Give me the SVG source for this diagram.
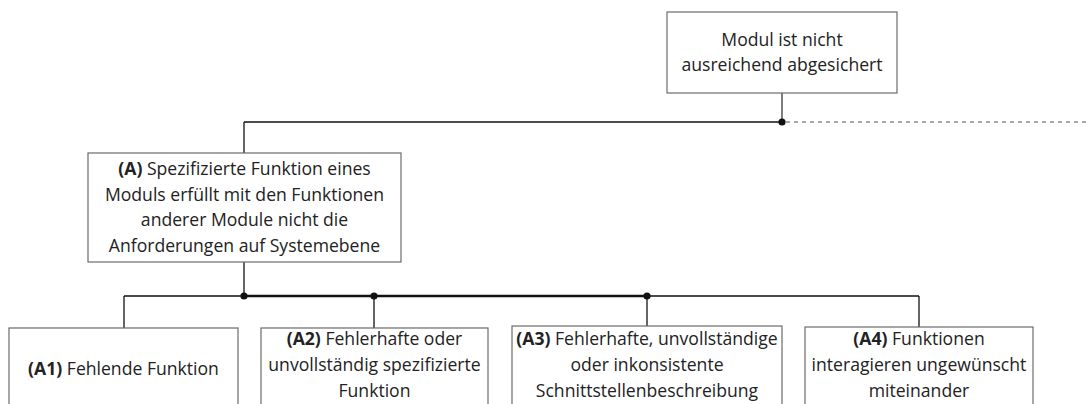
<svg xmlns="http://www.w3.org/2000/svg" width="1089" height="404" viewBox="0 0 1089 404">
  <style>
    .box { fill: #ffffff; stroke: #6b6b6b; stroke-width: 1.2; }
    .txt { font-family: "Open Sans", "Noto Sans", sans-serif; font-size: 17.6px; fill: #222; text-anchor: middle; }
    .b { font-weight: bold; }
    .wire { stroke: #111; stroke-width: 1.3; fill: none; }
    .bus { stroke: #111; stroke-width: 2.6; fill: none; }
    .dash { stroke: #8a8a8a; stroke-width: 1.5; stroke-dasharray: 4 4; fill: none; }
    .dot { fill: #111; }
  </style>
  <rect width="1089" height="404" fill="#ffffff"/>

  <!-- connectors -->
  <g id="connectors">
    <line class="wire" x1="782" y1="93" x2="782" y2="122" style="stroke:#3a3a3a"/>
    <line class="wire" x1="244" y1="122" x2="782" y2="122"/>
    <line class="dash" x1="786" y1="122" x2="1089" y2="122"/>
    <line class="wire" x1="244" y1="122" x2="244" y2="153"/>
    <line class="wire" x1="244" y1="262" x2="244" y2="296"/>
    <line class="wire" x1="124" y1="296" x2="244" y2="296"/>
    <line class="bus" x1="244" y1="296" x2="647" y2="296"/>
    <line class="wire" x1="647" y1="296" x2="919" y2="296"/>
    <line class="wire" x1="124" y1="296" x2="124" y2="328"/>
    <line class="wire" x1="374" y1="296" x2="374" y2="328"/>
    <line class="wire" x1="647" y1="296" x2="647" y2="326"/>
    <line class="wire" x1="919" y1="296" x2="919" y2="327"/>
    <circle class="dot" cx="782" cy="122" r="3.6"/>
    <circle class="dot" cx="244" cy="296" r="3.6"/>
    <circle class="dot" cx="374" cy="296" r="3.6"/>
    <circle class="dot" cx="647" cy="296" r="3.6"/>
  </g>

  <!-- root -->
  <g id="root">
    <rect class="box" x="667" y="12" width="230" height="81"/>
    <text class="txt" x="782" y="46">Modul ist nicht</text>
    <text class="txt" x="782" y="71">ausreichend abgesichert</text>
  </g>

  <!-- A -->
  <g id="nodeA">
    <rect class="box" x="88" y="153" width="313" height="109"/>
    <text class="txt" x="244.5" y="175"><tspan class="b">(A)</tspan> Spezifizierte Funktion eines</text>
    <text class="txt" x="244.5" y="200.5">Moduls erfüllt mit den Funktionen</text>
    <text class="txt" x="244.5" y="226">anderer Module nicht die</text>
    <text class="txt" x="244.5" y="251.5">Anforderungen auf Systemebene</text>
  </g>

  <!-- A1 -->
  <g id="nodeA1">
    <rect class="box" x="9" y="328" width="229" height="90"/>
    <text class="txt" x="123.5" y="375"><tspan class="b">(A1)</tspan> Fehlende Funktion</text>
  </g>

  <!-- A2 -->
  <g id="nodeA2">
    <rect class="box" x="261" y="328" width="227" height="90"/>
    <text class="txt" x="374.5" y="345"><tspan class="b">(A2)</tspan> Fehlerhafte oder</text>
    <text class="txt" x="374.5" y="371">unvollständig spezifizierte</text>
    <text class="txt" x="374.5" y="397">Funktion</text>
  </g>

  <!-- A3 -->
  <g id="nodeA3">
    <rect class="box" x="512" y="326" width="270" height="92"/>
    <text class="txt" x="647" y="345"><tspan class="b">(A3)</tspan> Fehlerhafte, unvollständige</text>
    <text class="txt" x="647" y="371">oder inkonsistente</text>
    <text class="txt" x="647" y="397">Schnittstellenbeschreibung</text>
  </g>

  <!-- A4 -->
  <g id="nodeA4">
    <rect class="box" x="805" y="327" width="228" height="91"/>
    <text class="txt" x="919" y="345"><tspan class="b">(A4)</tspan> Funktionen</text>
    <text class="txt" x="919" y="371">interagieren ungewünscht</text>
    <text class="txt" x="919" y="397">miteinander</text>
  </g>
</svg>
